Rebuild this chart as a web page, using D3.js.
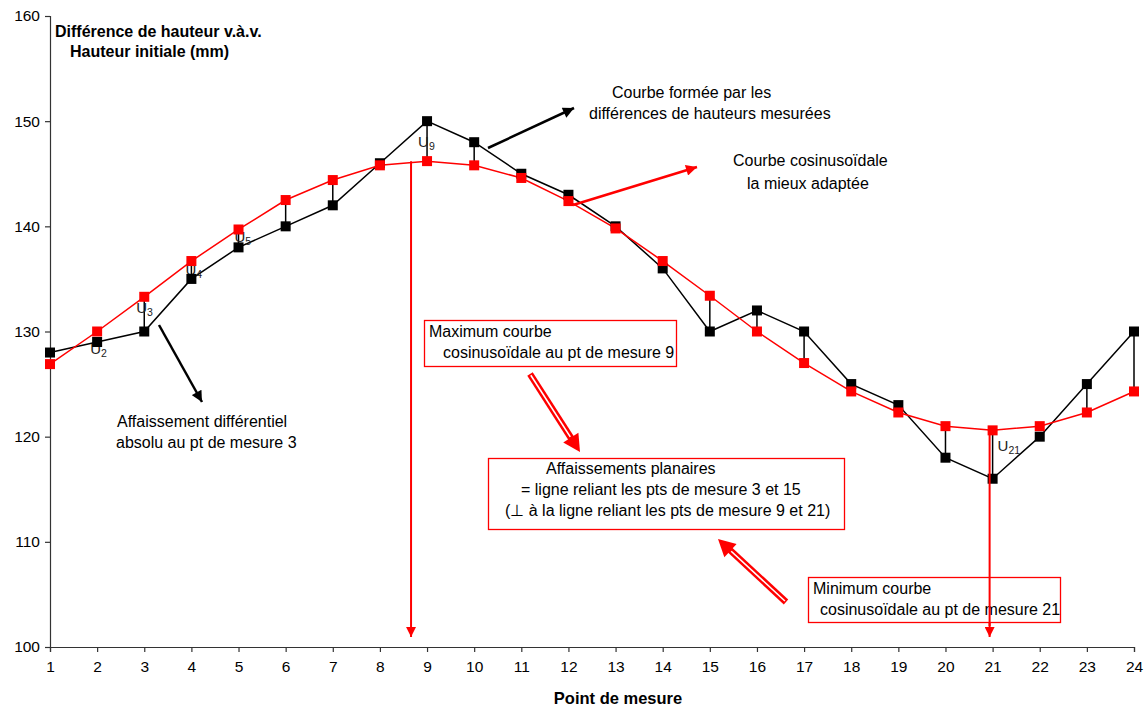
<!DOCTYPE html>
<html>
<head>
<meta charset="utf-8">
<script src="https://cdn.jsdelivr.net/npm/d3@7"></script>
<style>
  html, body { margin: 0; padding: 0; background: #fff; }
  svg { display: block; font-family: "Liberation Sans", Arial, sans-serif; }
</style>
</head>
<body>
<svg id="chart" width="1147" height="706"></svg>
<script>
// ---- data ----
const points = [1,2,3,4,5,6,7,8,9,10,11,12,13,14,15,16,17,18,19,20,21,22,23,24];
const measured = [128,129,130,135,138,140,142,146,150,148,145,143,140,136,130,132,130,125,123,118,116,120,125,130];
const fitted = [126.9,130.0,133.3,136.7,139.7,142.5,144.4,145.8,146.2,145.8,144.6,142.4,139.8,136.7,133.4,130.0,127.0,124.3,122.3,121.0,120.6,121.0,122.3,124.3];
const connectorPoints = [3,4,5,6,7,9,10,15,16,17,20,21,23,24];
const uLabelPoints = [2,3,4,5,9,21];
const yTicks = [100,110,120,130,140,150,160];
const xTicks = points;
const maxPoint = 9, minPoint = 21;

// ---- layout ----
const svg = d3.select("#chart");
const x = d3.scaleLinear().domain([1, 24]).range([50, 1134]);
const y = d3.scaleLinear().domain([100, 160]).range([647, 16]);
const RED = "#ff0000";

const defs = svg.append("defs");
function marker(id, color, w, h) {
  defs.append("marker").attr("id", id).attr("viewBox", "0 0 10 10")
    .attr("refX", 10).attr("refY", 5).attr("markerUnits", "userSpaceOnUse")
    .attr("markerWidth", w).attr("markerHeight", h).attr("orient", "auto")
    .append("path").attr("d", "M0,0 L10,5 L0,10 Z").attr("fill", color);
}
marker("arrBlack", "#000", 13, 11);
marker("arrRed", RED, 13, 11);
marker("arrRedV", RED, 12, 10);

// axes
const yAxis = d3.axisLeft(y).tickValues(yTicks).tickSize(5).tickPadding(5).tickFormat(d3.format("d"));
const xAxis = d3.axisBottom(x).tickValues(xTicks).tickSize(5).tickPadding(9).tickFormat(d3.format("d"));
const gy = svg.append("g").attr("transform", "translate(50,0)").call(yAxis);
const gx = svg.append("g").attr("transform", "translate(0,647)").call(xAxis);
[gx, gy].forEach(g => {
  g.select(".domain").attr("stroke", "#333").attr("stroke-width", 1.2);
  g.selectAll(".tick line").attr("stroke", "#333").attr("stroke-width", 1.2);
  g.selectAll(".tick text").attr("fill", "#000").style("font-size", "15.5px")
    .style("font-family", "'Liberation Sans', Arial, sans-serif");
});
gy.select(".domain").attr("d", "M-5,16.5H0.5V647.5");

// axis titles
const title = svg.append("text").attr("font-weight", "bold").attr("font-size", 16).attr("fill", "#000");
title.append("tspan").attr("x", 55).attr("y", 37).text("Différence de hauteur v.à.v.");
title.append("tspan").attr("x", 70).attr("y", 57).text("Hauteur initiale (mm)");
svg.append("text").attr("x", 618).attr("y", 704).attr("text-anchor", "middle")
  .attr("font-weight", "bold").attr("font-size", 16.5).text("Point de mesure");

// connectors between measured and fitted
svg.append("g").selectAll("line").data(connectorPoints).join("line")
  .attr("x1", p => x(p)).attr("x2", p => x(p))
  .attr("y1", p => y(measured[p - 1])).attr("y2", p => y(fitted[p - 1]))
  .attr("stroke", "#000").attr("stroke-width", 1.5);

// lines
const line = d3.line().x((d, i) => x(points[i])).y(d => y(d));
svg.append("path").datum(measured).attr("d", line).attr("fill", "none")
  .attr("stroke", "#000").attr("stroke-width", 1.5);
svg.append("path").datum(fitted).attr("d", line).attr("fill", "none")
  .attr("stroke", RED).attr("stroke-width", 1.5);

// U labels
const uOff = {2: [-7, 12], 3: [-8, 16], 4: [-6, 14], 5: [-4, 13], 9: [-9, 26], 21: [5, 21]};
const uG = svg.append("g").attr("fill", "#222");
uLabelPoints.forEach(p => {
  const o = uOff[p];
  const ref = (p === 2 || p === 9) ? measured[p - 1] : fitted[p - 1];
  const t = uG.append("text").attr("x", x(p) + o[0]).attr("y", y(ref) + o[1]).attr("font-size", 15);
  t.append("tspan").text("U");
  t.append("tspan").attr("font-size", 10.5).attr("dy", 3).text(p);
});

// markers
svg.append("g").selectAll("rect").data(measured).join("rect")
  .attr("x", (d, i) => x(points[i]) - 5).attr("y", d => y(d) - 5)
  .attr("width", 10).attr("height", 10).attr("fill", "#000");
svg.append("g").selectAll("rect").data(fitted).join("rect")
  .attr("x", (d, i) => x(points[i]) - 5).attr("y", d => y(d) - 5)
  .attr("width", 10).attr("height", 10).attr("fill", RED);

// red vertical arrows at max and min
svg.append("line").attr("x1", x(maxPoint) - 16).attr("x2", x(maxPoint) - 16)
  .attr("y1", y(fitted[maxPoint - 1])).attr("y2", 637)
  .attr("stroke", RED).attr("stroke-width", 2).attr("marker-end", "url(#arrRedV)");
svg.append("line").attr("x1", x(minPoint) - 3).attr("x2", x(minPoint) - 3)
  .attr("y1", y(fitted[minPoint - 1])).attr("y2", 637)
  .attr("stroke", RED).attr("stroke-width", 2).attr("marker-end", "url(#arrRedV)");

// simple arrows
function arrow(x1, y1, x2, y2, color, mk, w) {
  svg.append("line").attr("x1", x1).attr("y1", y1).attr("x2", x2).attr("y2", y2)
    .attr("stroke", color).attr("stroke-width", w).attr("marker-end", `url(#${mk})`);
}
arrow(159, 325, 202, 402, "#000", "arrBlack", 2.5);
arrow(488, 148, 574, 108, "#000", "arrBlack", 2.5);
arrow(573, 205, 697, 167, RED, "arrRed", 2.5);

// double (hollow) arrows
function blockArrow(x1, y1, x2, y2) {
  const dx = x2 - x1, dy = y2 - y1, L = Math.hypot(dx, dy);
  const ux = dx / L, uy = dy / L, nx = -uy, ny = ux;
  const head = 17, hw = 9;
  const bx = x2 - ux * head, by = y2 - uy * head;
  svg.append("line").attr("x1", x1).attr("y1", y1).attr("x2", bx + ux * 2).attr("y2", by + uy * 2)
    .attr("stroke", RED).attr("stroke-width", 6.5);
  svg.append("line").attr("x1", x1 + ux * 1.5).attr("y1", y1 + uy * 1.5).attr("x2", bx - ux * 1).attr("y2", by - uy * 1)
    .attr("stroke", "#fff").attr("stroke-width", 1.6);
  svg.append("path").attr("d", `M${x2},${y2} L${bx + nx * hw},${by + ny * hw} L${bx - nx * hw},${by - ny * hw} Z`)
    .attr("fill", RED);
}
blockArrow(530, 374, 580, 452);
blockArrow(786, 602, 718, 539);

// annotation texts
function textBlock(lines) {
  const t = svg.append("text").attr("font-size", 16).attr("fill", "#000");
  lines.forEach(l => t.append("tspan").attr("x", l[0]).attr("y", l[1]).text(l[2]));
}
textBlock([[612, 98, "Courbe formée par les"], [589, 119, "différences de hauteurs mesurées"]]);
textBlock([[733, 166, "Courbe cosinusoïdale"], [747, 189, "la mieux adaptée"]]);
textBlock([[117, 427, "Affaissement différentiel"], [116, 448, "absolu au pt de mesure 3"]]);

// boxes
function box(x0, y0, x1, y1) {
  svg.append("rect").attr("x", x0).attr("y", y0).attr("width", x1 - x0).attr("height", y1 - y0)
    .attr("fill", "#fff").attr("stroke", RED).attr("stroke-width", 1.3);
}
box(424.5, 320.5, 676.5, 366.5);
textBlock([[429, 337, "Maximum courbe"], [443, 358, "cosinusoïdale au pt de mesure 9"]]);
box(488.5, 458.5, 844.5, 529.5);
textBlock([[546, 474, "Affaissements planaires"], [521, 495, "= ligne reliant les pts de mesure 3 et 15"], [505, 516, "(⊥ à la ligne reliant les pts de mesure 9 et 21)"]]);
box(808.5, 577.5, 1060.5, 622.5);
textBlock([[813, 594, "Minimum courbe"], [820, 615, "cosinusoïdale au pt de mesure 21"]]);
// min vertical line passes over box 3
svg.append("line").attr("x1", x(minPoint) - 3).attr("x2", x(minPoint) - 3)
  .attr("y1", 577).attr("y2", 626).attr("stroke", RED).attr("stroke-width", 2);
</script>
</body>
</html>
